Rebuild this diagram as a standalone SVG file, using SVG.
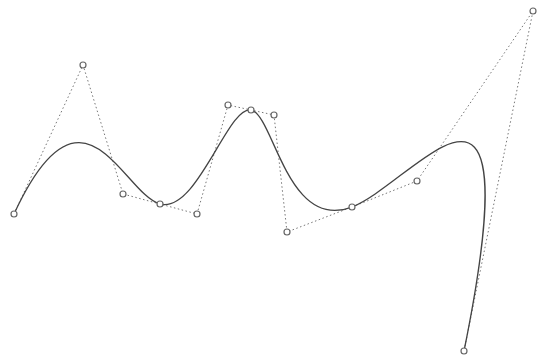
<svg xmlns="http://www.w3.org/2000/svg" width="537" height="358" viewBox="0 0 537 358">
<style>
.poly{fill:none;stroke:#777;stroke-width:1;stroke-dasharray:1.5 2.5}
.curve{fill:none;stroke:#444;stroke-width:1.3}
.pt{fill:#fff;stroke:#666;stroke-width:1.2}
</style>
<rect width="537" height="358" fill="#fff"/>
<g id="connectors">
<polyline class="poly" points="14,214 83,65 123,194 160,204 197,214 228,105 251,110 274,115 287,232 352,207 417,181 533,11 464,351"/>
<path class="curve" d="M14,214 C83,65 123,194 160,204 C197,214 228,105 251,110 C274,115 287,232 352,207 C417,181 533,11 464,351"/>
</g>
<g id="p0"><circle class="pt" cx="14" cy="214" r="3"/></g>
<g id="c1"><circle class="pt" cx="83" cy="65" r="3"/></g>
<g id="c2"><circle class="pt" cx="123" cy="194" r="3"/></g>
<g id="p1"><circle class="pt" cx="160" cy="204" r="3"/></g>
<g id="c3"><circle class="pt" cx="197" cy="214" r="3"/></g>
<g id="c4"><circle class="pt" cx="228" cy="105" r="3"/></g>
<g id="p2"><circle class="pt" cx="251" cy="110" r="3"/></g>
<g id="c5"><circle class="pt" cx="274" cy="115" r="3"/></g>
<g id="c6"><circle class="pt" cx="287" cy="232" r="3"/></g>
<g id="p3"><circle class="pt" cx="352" cy="207" r="3"/></g>
<g id="c7"><circle class="pt" cx="417" cy="181" r="3"/></g>
<g id="c8"><circle class="pt" cx="533" cy="11" r="3"/></g>
<g id="p4"><circle class="pt" cx="464" cy="351" r="3"/></g>
</svg>
